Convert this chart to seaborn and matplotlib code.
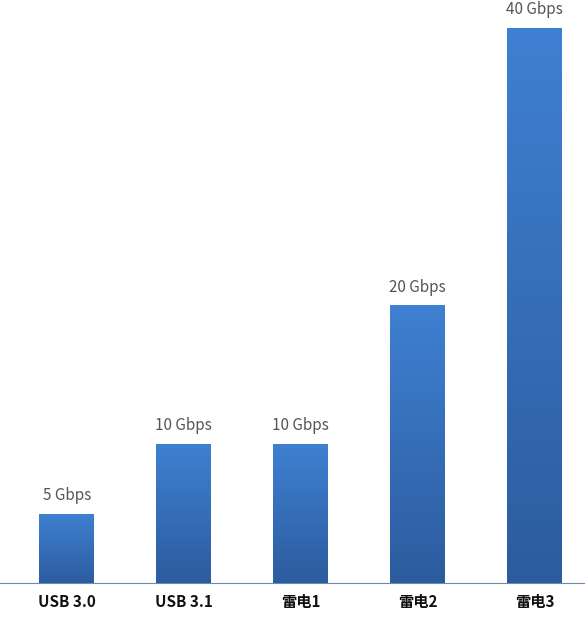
import numpy as np
import pandas as pd
import matplotlib
matplotlib.use("Agg")
import matplotlib.pyplot as plt
import seaborn as sns

categories = ["USB 3.0", "USB 3.1", "雷电1", "雷电2", "雷电3"]
speeds = [5, 10, 10, 20, 40]
labels = ["5 Gbps", "10 Gbps", "10 Gbps", "20 Gbps", "40 Gbps"]

sns.set_style("white")
plt.rcParams['font.family'] = ['Noto Sans CJK SC', 'DejaVu Sans']

df = pd.DataFrame({"cat": categories, "speed": speeds})
fig = plt.figure(figsize=(5.85, 6.19), dpi=100)
ax = fig.add_axes([0, 36 / 619, 1, 1 - 36 / 619])
sns.barplot(data=df, x="cat", y="speed", width=0.47, color="#3a78c8", ax=ax)

# vertical gradient on each bar, lighter on top
grad = np.linspace(0, 1, 256).reshape(-1, 1)
cmap = matplotlib.colors.LinearSegmentedColormap.from_list("g", ["#2c5c9e", "#3f80d2"])
for bar in ax.patches:
    x0, y0 = bar.get_x(), bar.get_y()
    w, h = bar.get_width(), bar.get_height()
    im = ax.imshow(grad, extent=[x0, x0 + w, y0, y0 + h], origin="lower",
                   aspect="auto", cmap=cmap, zorder=3)
    im.set_clip_path(bar)

for i, (v, t) in enumerate(zip(speeds, labels)):
    ax.text(i, v + 0.7, t, ha="center", va="bottom", fontsize=11, color="#555555")

ax.set_xlim(-0.57, 4.43)
ax.set_ylim(0, 42)
ax.set_xlabel("")
ax.set_ylabel("")
ax.set_yticks([])
for s in ["top", "right", "left"]:
    ax.spines[s].set_visible(False)
ax.spines["bottom"].set_color("#6a8cb0")
ax.tick_params(axis="x", length=0, pad=8)
for lbl in ax.get_xticklabels():
    lbl.set_fontweight("bold")
    lbl.set_fontsize(11)
    lbl.set_color("#111111")

fig.savefig("out.png", dpi=100)
